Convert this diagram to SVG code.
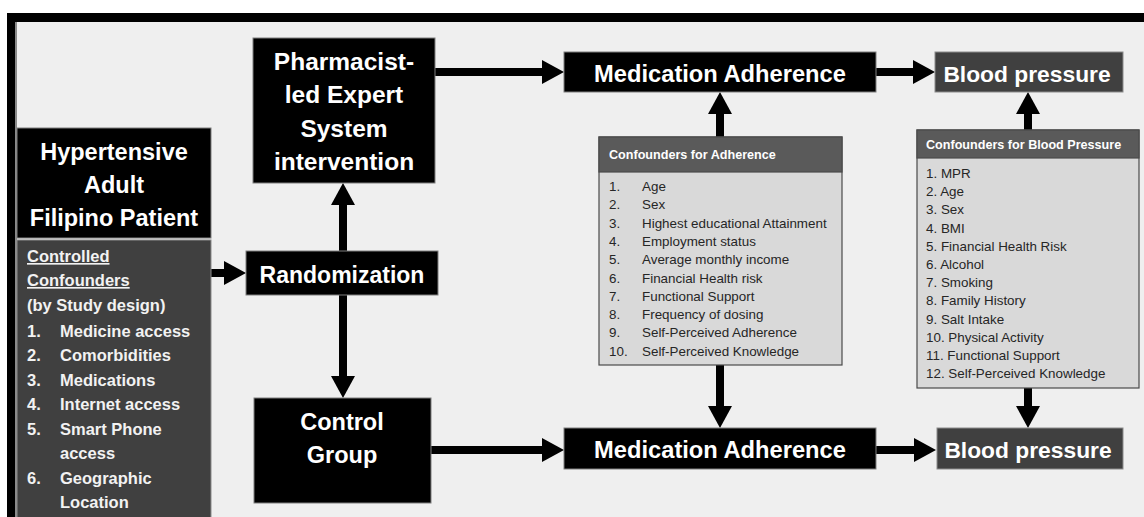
<svg xmlns="http://www.w3.org/2000/svg" width="1144" height="517" viewBox="0 0 1144 517">
  <style>
    .bold { font-family: "Liberation Sans", Arial, sans-serif; font-weight: bold; }
    .reg { font-family: "Liberation Sans", Arial, sans-serif; }
    .white { fill: #ffffff; }
    .light { fill: #f2f2f2; }
    .title { font-size: 23.5px; text-anchor: middle; }
    .big { font-size: 24.5px; text-anchor: middle; }
    .list { font-size: 16.5px; }
    .hdr { font-size: 12.6px; fill: #ffffff; }
    .item { font-size: 13.4px; fill: #262626; }
    .blk { fill: #000000; stroke: #7f7f7f; stroke-width: 1; }
    .dark { fill: #404040; stroke: #8c8c8c; stroke-width: 1; }
    .panel { fill: #d9d9d9; stroke: #4a4a4a; stroke-width: 1.2; }
    .band { fill: #5a5a5a; stroke: #4a4a4a; stroke-width: 1.2; }
    .conn { stroke: #000000; stroke-width: 8; fill: none; marker-end: url(#head); }
  </style>
  <defs>
    <marker id="head" markerUnits="userSpaceOnUse" markerWidth="24" markerHeight="24" refX="2" refY="12" orient="auto">
      <path d="M0,0 L22,12 L0,24 Z" fill="#000000"/>
    </marker>
  </defs>

  <!-- page and frame -->
  <rect x="0" y="0" width="1144" height="517" fill="#ffffff"/>
  <rect x="15" y="22" width="1129" height="495" fill="#efefef"/>
  <rect x="7" y="13" width="1137" height="9" fill="#000000"/>
  <rect x="7" y="13" width="8" height="504" fill="#000000"/>
  <rect x="15" y="22" width="2" height="495" fill="#8a8a8a"/>

  <!-- connectors -->
  <g id="connectors">
    <line class="conn" x1="435" y1="72" x2="544" y2="72"/>
    <line class="conn" x1="876" y1="72" x2="915" y2="72"/>
    <line class="conn" x1="720" y1="137" x2="720" y2="112"/>
    <line class="conn" x1="1028" y1="130" x2="1028" y2="112"/>
    <line class="conn" x1="211" y1="273" x2="226" y2="273"/>
    <line class="conn" x1="343" y1="251" x2="343" y2="203"/>
    <line class="conn" x1="343" y1="295" x2="343" y2="378"/>
    <line class="conn" x1="431" y1="450" x2="544" y2="450"/>
    <line class="conn" x1="720" y1="365" x2="720" y2="408"/>
    <line class="conn" x1="1028" y1="388" x2="1028" y2="408"/>
    <line class="conn" x1="876" y1="450" x2="916" y2="450"/>
  </g>

  <!-- population -->
  <g id="patient">
    <rect class="blk" x="17" y="128" width="194" height="110"/>
    <text class="bold white title" x="114" y="160">Hypertensive</text>
    <text class="bold white title" x="114" y="193">Adult</text>
    <text class="bold white title" x="114" y="226">Filipino Patient</text>
  </g>

  <!-- confounders fixed by design -->
  <g id="controlled-confounders">
    <rect class="dark" x="17" y="240" width="194" height="285"/>
    <text class="bold light list" x="27" y="262" text-decoration="underline">Controlled</text>
    <text class="bold light list" x="27" y="286" text-decoration="underline">Confounders</text>
    <text class="bold light list" x="27" y="311">(by Study design)</text>
    <g class="bold light list">
      <text x="27" y="337">1.</text><text x="60" y="337">Medicine access</text>
      <text x="27" y="361">2.</text><text x="60" y="361">Comorbidities</text>
      <text x="27" y="386">3.</text><text x="60" y="386">Medications</text>
      <text x="27" y="410">4.</text><text x="60" y="410">Internet access</text>
      <text x="27" y="435">5.</text><text x="60" y="435">Smart Phone</text>
      <text x="60" y="459">access</text>
      <text x="27" y="484">6.</text><text x="60" y="484">Geographic</text>
      <text x="60" y="508">Location</text>
    </g>
  </g>

  <g id="randomization">
    <rect class="blk" x="246" y="251" width="192" height="44"/>
    <text class="bold white" x="342" y="283" font-size="23" text-anchor="middle">Randomization</text>
  </g>

  <g id="intervention">
    <rect class="blk" x="253" y="38" width="182" height="145"/>
    <text class="bold white big" x="344" y="70">Pharmacist-</text>
    <text class="bold white big" x="344" y="103">led Expert</text>
    <text class="bold white big" x="344" y="137">System</text>
    <text class="bold white big" x="344" y="170">intervention</text>
  </g>

  <g id="control">
    <rect class="blk" x="254" y="398" width="177" height="105"/>
    <text class="bold white" x="342" y="430" font-size="23.5" text-anchor="middle">Control</text>
    <text class="bold white" x="342" y="463" font-size="23.5" text-anchor="middle">Group</text>
  </g>

  <g id="adherence-top">
    <rect class="blk" x="564" y="52" width="312" height="40"/>
    <text class="bold white" x="720" y="82" font-size="23.7" text-anchor="middle">Medication Adherence</text>
  </g>

  <g id="adherence-bottom">
    <rect class="blk" x="564" y="428" width="312" height="41"/>
    <text class="bold white" x="720" y="458" font-size="23.7" text-anchor="middle">Medication Adherence</text>
  </g>

  <g id="bp-top">
    <rect class="dark" x="935" y="52" width="188" height="40"/>
    <text class="bold white" x="1027" y="82" font-size="22.8" text-anchor="middle">Blood pressure</text>
  </g>

  <g id="bp-bottom">
    <rect class="dark" x="937" y="428" width="186" height="41"/>
    <text class="bold white" x="1028" y="458" font-size="22.8" text-anchor="middle">Blood pressure</text>
  </g>

  <!-- covariates for adherence -->
  <g id="adherence-confounders">
    <rect class="panel" x="599" y="137" width="243" height="228"/>
    <rect class="band" x="599" y="137" width="243" height="35"/>
    <text class="bold hdr" x="609" y="159">Confounders for Adherence</text>
    <g class="reg item">
      <text x="609" y="191">1.</text><text x="642" y="191">Age</text>
      <text x="609" y="209.3">2.</text><text x="642" y="209.3">Sex</text>
      <text x="609" y="227.6">3.</text><text x="642" y="227.6">Highest educational Attainment</text>
      <text x="609" y="245.9">4.</text><text x="642" y="245.9">Employment status</text>
      <text x="609" y="264.2">5.</text><text x="642" y="264.2">Average monthly income</text>
      <text x="609" y="282.5">6.</text><text x="642" y="282.5">Financial Health risk</text>
      <text x="609" y="300.8">7.</text><text x="642" y="300.8">Functional Support</text>
      <text x="609" y="319.1">8.</text><text x="642" y="319.1">Frequency of dosing</text>
      <text x="609" y="337.4">9.</text><text x="642" y="337.4">Self-Perceived Adherence</text>
      <text x="609" y="355.7">10.</text><text x="642" y="355.7">Self-Perceived Knowledge</text>
    </g>
  </g>

  <!-- covariates for blood pressure -->
  <g id="bp-confounders">
    <rect class="panel" x="917" y="130" width="222" height="258"/>
    <rect class="band" x="917" y="130" width="222" height="28"/>
    <text class="bold hdr" x="926" y="149">Confounders for Blood Pressure</text>
    <g class="reg item">
      <text x="926" y="178">1. MPR</text>
      <text x="926" y="196.2">2. Age</text>
      <text x="926" y="214.4">3. Sex</text>
      <text x="926" y="232.6">4. BMI</text>
      <text x="926" y="250.8">5. Financial Health Risk</text>
      <text x="926" y="269">6. Alcohol</text>
      <text x="926" y="287.2">7. Smoking</text>
      <text x="926" y="305.4">8. Family History</text>
      <text x="926" y="323.6">9. Salt Intake</text>
      <text x="926" y="341.8">10. Physical Activity</text>
      <text x="926" y="360">11. Functional Support</text>
      <text x="926" y="378.2">12. Self-Perceived Knowledge</text>
    </g>
  </g>
</svg>
